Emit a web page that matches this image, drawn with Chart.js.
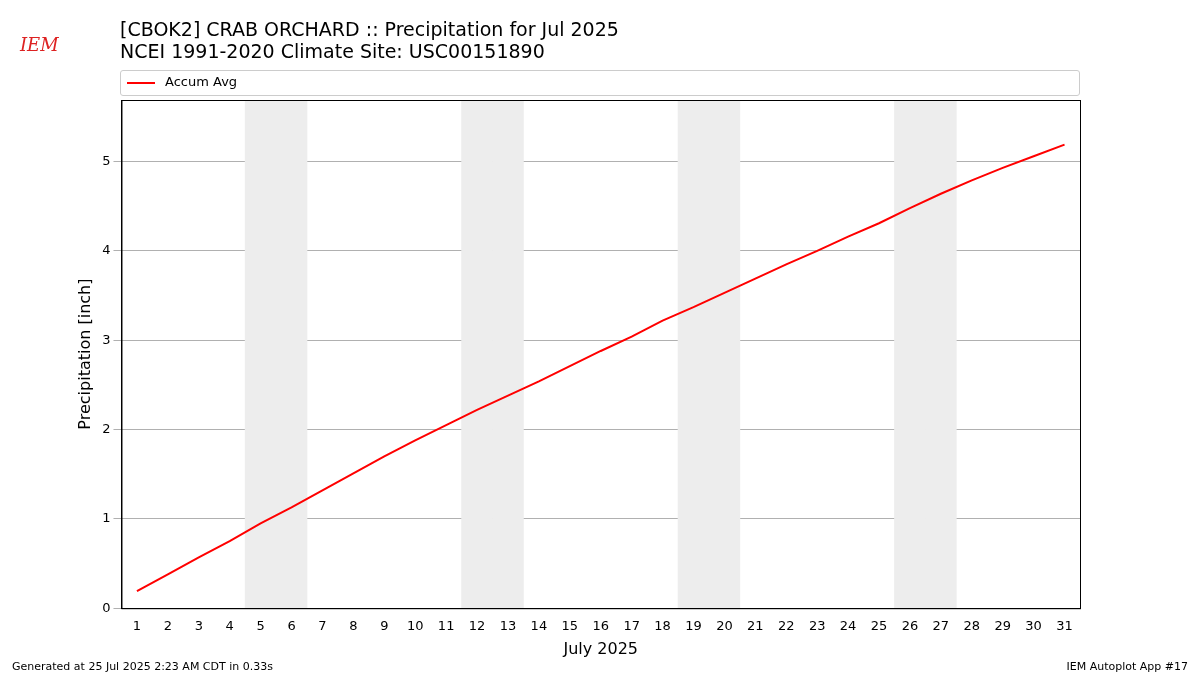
<!DOCTYPE html>
<html><head><meta charset="utf-8">
<script src="https://cdn.jsdelivr.net/npm/chart.js@4"></script>
<style>
body{margin:0;width:1200px;height:675px;position:relative;font-family:"DejaVu Sans",sans-serif;background:#fff;overflow:hidden}
#c{position:absolute;left:0;top:0}
.t{position:absolute;left:120px;font-size:19px;color:#000;line-height:22px}
.f{position:absolute;top:660px;font-size:11px}
#leg{position:absolute;left:120px;top:70px;width:958px;height:24px;border:1px solid #ccc;border-radius:3px;font-size:13px}
#leg span.l{position:absolute;left:6px;top:11px;width:28px;height:2px;background:red}
#leg span.x{position:absolute;left:44px;top:3px}
#logo{position:absolute;left:20px;top:34px;color:#d22;font-family:"DejaVu Serif",serif;font-style:italic;font-size:18px}
</style></head><body>
<canvas id="c" width="1200" height="675"></canvas>
<div id="logo">IEM</div>
<div class="t" style="top:18px">[CBOK2] CRAB ORCHARD :: Precipitation for Jul 2025</div>
<div class="t" style="top:40px">NCEI 1991-2020 Climate Site: USC00151890</div>
<div id="leg"><span class="l"></span><span class="x">Accum Avg</span></div>
<div class="f" style="left:12px">Generated at 25 Jul 2025 2:23 AM CDT in 0.33s</div>
<div class="f" style="right:12px">IEM Autoplot App #17</div>
<script>
const days = Array.from({length:31},(_,i)=>String(i+1));
const accumAvg = [0.19,0.38,0.57,0.75,0.95,1.13,1.32,1.51,1.70,1.88,2.05,2.22,2.38,2.54,2.71,2.88,3.04,3.22,3.37,3.53,3.69,3.85,4.00,4.16,4.31,4.48,4.64,4.79,4.93,5.06,5.19];
const weekendDays = ["5","6","12","13","19","20","26","27"];
const yMax = 5.69;
const shade = days.map(d=>weekendDays.includes(d)?yMax:null);
const frame = {id:'frame',afterDraw(ch){const a=ch.chartArea,c=ch.ctx;c.save();c.strokeStyle='#000';c.lineWidth=1;c.strokeRect(a.left+0.5,a.top+0.5,a.right-a.left,a.bottom-a.top);c.restore();}};
new Chart(document.getElementById('c'),{
 data:{labels:days,datasets:[
  {type:'line',label:'Accum Avg',data:accumAvg,borderColor:'red',borderWidth:2,pointRadius:0,tension:0,order:0},
  {type:'bar',label:'weekend',data:shade,backgroundColor:'#ededed',barPercentage:1,categoryPercentage:1,order:1}
 ]},
 options:{responsive:false,animation:false,
  layout:{padding:{top:100,right:120,left:72,bottom:12}},
  plugins:{legend:{display:false},tooltip:{enabled:false}},
  scales:{
   x:{offset:true,grid:{display:false},border:{color:'#000'},ticks:{color:'#000',font:{size:13,family:'DejaVu Sans'},maxRotation:0,autoSkip:false},
      title:{display:true,text:'July 2025',color:'#000',font:{size:16,family:'DejaVu Sans'},padding:{top:2}}},
   y:{min:0,max:yMax,grid:{color:'#b0b0b0'},border:{color:'#000'},
      ticks:{stepSize:1,color:'#000',font:{size:13,family:'DejaVu Sans'},callback:v=>Number.isInteger(v)?v:null},
      title:{display:true,text:'Precipitation [inch]',color:'#000',font:{size:16,family:'DejaVu Sans'}}}
  }},
 plugins:[frame]
});
</script></body></html>
